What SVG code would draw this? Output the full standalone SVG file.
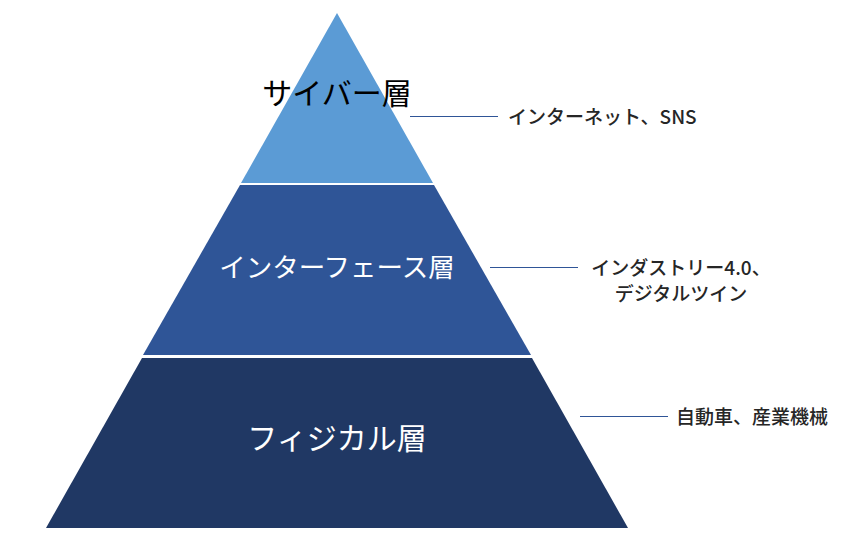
<svg xmlns="http://www.w3.org/2000/svg" width="863" height="547" viewBox="0 0 863 547">
<style>
.layer-label{font-family:"Noto Sans CJK JP","Noto Sans",sans-serif;text-anchor:middle;}
.side{font-family:"Noto Sans CJK JP","Noto Sans",sans-serif;font-size:19px;font-weight:500;fill:#262626;}
.conn{stroke:#2F5597;stroke-width:1;fill:none;}
</style>
<rect width="863" height="547" fill="#FFFFFF"/>
<g id="cyber">
<polygon points="337,13 433,183 241,183" fill="#5B9BD5"/>
<text class="layer-label" x="337" y="104" font-size="30" fill="#000000">サイバー層</text>
</g>
<g id="interface">
<polygon points="240,185 434,185 531,355 143,355" fill="#2F5597"/>
<text class="layer-label" x="337" y="277" font-size="26.5" fill="#FFFFFF">インターフェース層</text>
</g>
<g id="physical">
<polygon points="142,358 532,358 628,528 46,528" fill="#203864"/>
<text class="layer-label" x="337" y="449" font-size="30" fill="#FFFFFF">フィジカル層</text>
</g>
<g id="connectors">
<line class="conn" x1="410" y1="116.5" x2="498" y2="116.5"/>
<line class="conn" x1="490" y1="267.5" x2="578" y2="267.5"/>
<line class="conn" x1="580" y1="416.5" x2="668" y2="416.5"/>
</g>
<g id="label-cyber">
<text class="side" x="508" y="124">インターネット、SNS</text>
</g>
<g id="label-interface">
<text class="side" x="681" y="275" text-anchor="middle">インダストリー4.0、</text>
<text class="side" x="681" y="301" text-anchor="middle">デジタルツイン</text>
</g>
<g id="label-physical">
<text class="side" x="676" y="424">自動車、産業機械</text>
</g>
</svg>
